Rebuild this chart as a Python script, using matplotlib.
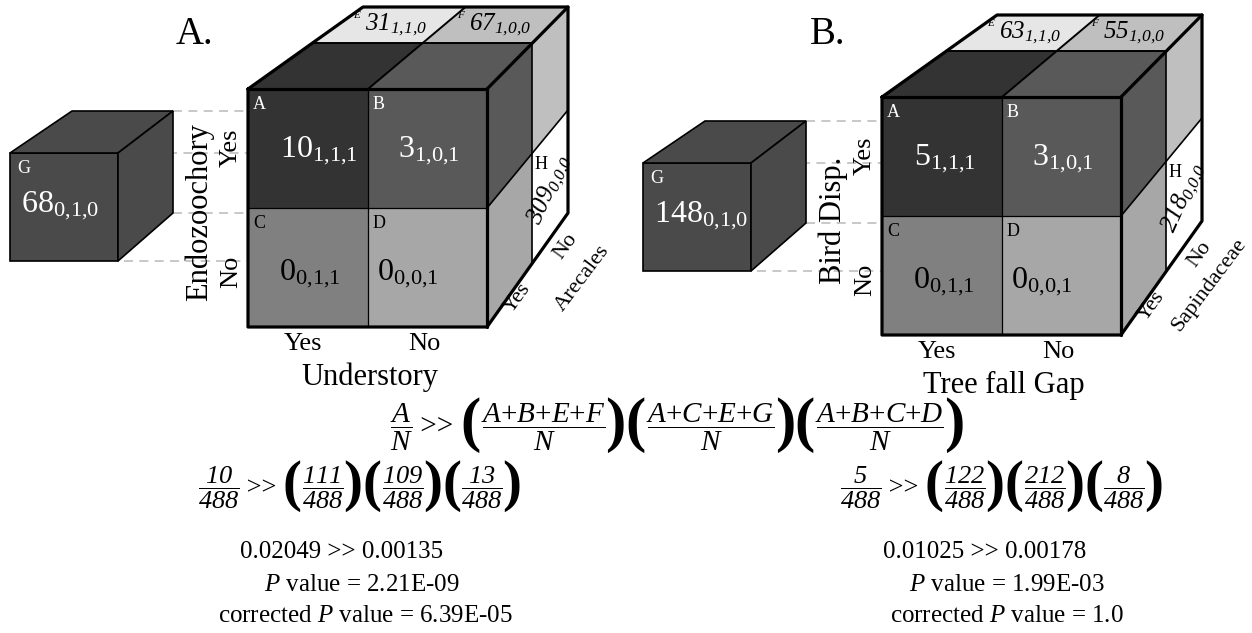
import matplotlib
matplotlib.use('Agg')
import matplotlib.pyplot as plt
from matplotlib.patches import Polygon

plt.rcParams['font.family'] = ['Liberation Serif', 'DejaVu Serif']
plt.rcParams['mathtext.fontset'] = 'custom'
plt.rcParams['mathtext.rm'] = 'Liberation Serif'
plt.rcParams['mathtext.it'] = 'Liberation Serif:italic'
plt.rcParams['mathtext.bf'] = 'Liberation Serif:bold'
# sf slot used for italic digits (mathit keeps digits upright)
plt.rcParams['mathtext.sf'] = 'Liberation Serif:italic'

# --- data ---
cell_names = ['A', 'B', 'C', 'D', 'E', 'F', 'G', 'H']
cell_codes = ['1,1,1', '1,0,1', '0,1,1', '0,0,1', '1,1,0', '1,0,0', '0,1,0', '0,0,0']
counts_a = [10, 3, 0, 0, 31, 67, 68, 309]
counts_b = [5, 3, 0, 0, 63, 55, 148, 218]
titles = ['A.', 'B.']
row_vars = ['Endozoochory', 'Bird Disp.']
col_vars = ['Understory', 'Tree fall Gap']
depth_vars = ['Arecales', 'Sapindaceae']
levels = ['Yes', 'No']
n_total = [488, 488]
obs_num = [10, 5]
exp_nums_a = [111, 109, 13]
exp_nums_b = [122, 212, 8]
obs_freq = ['0.02049', '0.01025']
exp_freq = ['0.00135', '0.00178']
p_vals = ['2.21E-09', '1.99E-03']
p_corr = ['6.39E-05', '1.0']
formula_terms = ['A+B+E+F', 'A+C+E+G', 'A+B+C+D']

face_col = {'A': '#333333', 'B': '#595959', 'C': '#808080', 'D': '#a7a7a7',
            'E': '#e6e6e6', 'F': '#bfbfbf', 'G': '#4a4a4a', 'H': '#ffffff'}
txt_col = {'A': 'white', 'B': 'white', 'C': 'black', 'D': 'black',
           'E': 'black', 'F': 'black', 'G': 'white', 'H': 'black'}

fig = plt.figure(figsize=(12.52, 6.33), dpi=100)
ax = fig.add_axes([0, 0, 1, 1])
ax.set_xlim(0, 1252)
ax.set_ylim(633, 0)
ax.axis('off')

T = 0.56  # depth split of the cube (perspective)


def lerp(p, q, t):
    return (p[0] + (q[0] - p[0]) * t, p[1] + (q[1] - p[1]) * t)


def quad(pts, fc, z=1):
    pg = Polygon(pts, closed=True, facecolor=fc, edgecolor='none', zorder=z)
    ax.add_patch(pg)
    return pg


def seg(pts, lw, z=3):
    xs, ys = zip(*pts)
    ax.plot(xs, ys, color='black', lw=lw, solid_capstyle='round',
            solid_joinstyle='round', zorder=z)


def tight(s):
    # no spacing after commas in mathtext
    return s.replace(',', '{,}')


def draw_panel(k, counts, ox, oy, gx, gy, depth_xy):
    def P(x, y):
        return (x + ox, y + oy)

    c = dict(zip(cell_names, counts))
    code = {n: tight(s) for n, s in zip(cell_names, cell_codes)}

    # main cube corners
    ftl, ftr, fbr, fbl = P(248, 89), P(487, 89), P(487, 327), P(248, 327)
    btl, btr, bbr = P(363, 7), P(568, 7), P(568, 213)
    fmt, fmb = P(368, 89), P(368, 327)
    fml, fmr = P(248, 208), P(487, 208)
    fmm = P(368, 208)
    bmt = lerp(btl, btr, 0.5)
    bmr = lerp(btr, bbr, 0.5)
    lt, rt, mt = lerp(ftl, btl, T), lerp(ftr, btr, T), lerp(fmt, bmt, T)
    rb, rm = lerp(fbr, bbr, T), lerp(fmr, bmr, T)

    # front face
    quad([ftl, fmt, fmm, fml], face_col['A'])
    quad([fmt, ftr, fmr, fmm], face_col['B'])
    quad([fml, fmm, fmb, fbl], face_col['C'])
    quad([fmm, fmr, fbr, fmb], face_col['D'])
    # top face
    quad([ftl, fmt, mt, lt], face_col['A'])
    quad([fmt, ftr, rt, mt], face_col['B'])
    quad([lt, mt, bmt, btl], face_col['E'])
    quad([mt, rt, btr, bmt], face_col['F'])
    # right face
    quad([ftr, fmr, rm, rt], face_col['B'])
    quad([fmr, fbr, rb, rm], face_col['D'])
    quad([rt, rm, bmr, btr], face_col['F'])
    hface = quad([rm, rb, bbr, bmr], face_col['H'])

    # inner lines
    seg([fmt, fmb], 0.9)
    seg([fml, fmr], 0.9)
    seg([lt, rt], 1.4)
    seg([fmt, mt, bmt], 1.4)
    seg([rt, rb], 1.2)
    seg([fmr, rm, bmr], 1.2)
    # outer lines
    seg([ftl, btl, btr, bbr, fbr, fbl, ftl], 2.3, z=4)
    seg([ftl, ftr, fbr], 2.3, z=4)
    seg([ftr, btr], 2.3, z=4)

    # cell letters
    for name, (x, y) in zip('ABCD', [(248, 89), (368, 89), (248, 208), (368, 208)]):
        ax.text(*P(x + 5, y + 7), name, color=txt_col[name], fontsize=13,
                ha='left', va='top', zorder=5)
    # cell counts
    for name, (x, y) in zip('ABCD', [(280, 157), (398, 157), (279, 280), (377, 280)]):
        ax.text(*P(x, y), r'$\mathregular{%d_{%s}}$' % (c[name], code[name]),
                color=txt_col[name], fontsize=23, ha='left', va='baseline', zorder=5)

    # top face labels E / F
    for name, x in zip('EF', [353, 457]):
        ax.text(*P(x, 11), name, fontsize=8, ha='left', va='top', zorder=5,
                style='italic')
        ax.text(*P(x + 12, 30), r'$\mathsf{%d}_{\mathsf{%s}}$' % (c[name], code[name]),
                fontsize=18, ha='left', va='baseline', zorder=5)

    # right face label H (clipped to its face)
    ax.text(*P(535, 156), 'H', fontsize=13, ha='left', va='top', zorder=5)
    th = ax.text(*P(540, 226), r'$\mathsf{%d}_{\mathsf{%s}}$' % (c['H'], code['H']),
                 fontsize=18, ha='left', va='baseline', rotation=66,
                 rotation_mode='anchor', zorder=5)
    th.set_clip_path(hface)

    # titles and axis labels
    ax.text(194 + ox, 35, titles[k], fontsize=28, ha='center', va='center')
    ax.text(*P(199, 212), row_vars[k], fontsize=22, rotation=90,
            ha='center', va='center', zorder=6)
    ax.text(*P(231, 148), levels[0], fontsize=19, rotation=90,
            ha='center', va='center', zorder=6)
    ax.text(*P(231, 272), levels[1], fontsize=19, rotation=90,
            ha='center', va='center', zorder=6)
    ax.text(*P(303, 344), levels[0], fontsize=19, ha='center', va='center')
    ax.text(*P(424, 344), levels[1], fontsize=19, ha='center', va='center')
    ax.text(*P(370, 377), col_vars[k], fontsize=22, ha='center', va='center')
    # depth labels along the bottom right edge
    ax.text(*P(518, 298), levels[0], fontsize=16, rotation=54,
            ha='center', va='center')
    ax.text(*P(566, 246), levels[1], fontsize=16, rotation=54,
            ha='center', va='center')
    ax.text(*P(*depth_xy), depth_vars[k], fontsize=16, rotation=53,
            ha='center', va='center')

    # G cube
    def G(x, y):
        return (x + gx, y + gy)

    gftl, gftr, gfbr, gfbl = G(10, 153), G(118, 153), G(118, 261), G(10, 261)
    gbtl, gbtr, gbbr = G(72, 111), G(173, 111), G(173, 213)
    for pts in ([gftl, gftr, gfbr, gfbl], [gftl, gftr, gbtr, gbtl],
                [gftr, gbtr, gbbr, gfbr]):
        ax.add_patch(Polygon(pts, closed=True, facecolor=face_col['G'],
                             edgecolor='black', lw=1.2, zorder=2))
    ax.text(*G(17, 160), 'G', color='white', fontsize=13, ha='left', va='top', zorder=5)
    ax.text(*G(21, 212), r'$\mathregular{%d_{%s}}$' % (c['G'], code['G']),
            color='white', fontsize=23, ha='left', va='baseline', zorder=5)

    # dashed projection lines
    for (x, y) in [(gbtr[0], gbtr[1]), (gftr[0] + 4, gftr[1]),
                   (gbbr[0], gbbr[1]), (gfbr[0] + 6, gfbr[1])]:
        ax.plot([x, ftl[0]], [y, y], color='#c4c4c4', lw=1.3,
                linestyle=(0, (5, 3.5)), zorder=1)


draw_panel(0, counts_a, 0, 0, 0, 0, (583, 278))
draw_panel(1, counts_b, 634, 8, 633, 10, (575, 277))

# --- formulas, laid out piece by piece so the brackets can be heavy ---
renderer = fig.canvas.get_renderer()


def row_of(cx, cy, pieces):
    texts = []
    for s, kw in pieces:
        kw = dict(kw)
        dy = kw.pop('dy', 0)
        texts.append(ax.text(0, cy + dy, s, ha='left', va='center', **kw))
    widths = [t.get_window_extent(renderer).width for t in texts]
    x = cx - sum(widths) / 2
    for t, w in zip(texts, widths):
        t.set_x(x)
        x += w


def frac(num, den, fs):
    return (r'$\dfrac{%s}{%s}$' % (num, den), dict(fontsize=fs))


def op(fs):
    return (' >> ', dict(fontsize=fs))


def paren(s, fs):
    return (s, dict(fontsize=fs, fontweight='bold', dy=-2))


pieces = [frac('A', 'N', 21), op(21)]
for term in formula_terms:
    pieces += [paren('(', 44), frac(term.replace('+', '{+}'), 'N', 21), paren(')', 44)]
row_of(677, 427, pieces)

for k, (cx, exps) in enumerate([(360, exp_nums_a), (1002, exp_nums_b)]):
    n = n_total[k]
    pieces = [frac(r'\mathsf{%d}' % obs_num[k], r'\mathsf{%d}' % n, 19), op(19)]
    for e in exps:
        pieces += [paren('(', 41),
                   frac(r'\mathsf{%d}' % e, r'\mathsf{%d}' % n, 19),
                   paren(')', 41)]
    row_of(cx, 488, pieces)

line_x = [(342, 362, 365), (985, 1007, 1007)]
for k, (x1, x2, x3) in enumerate(line_x):
    ax.text(x1, 552, '%s >> %s' % (obs_freq[k], exp_freq[k]), fontsize=18,
            ha='center', va='center')
    ax.text(x2, 585, r'$\mathit{P}$ value = %s' % p_vals[k], fontsize=18,
            ha='center', va='center')
    ax.text(x3, 616, r'corrected $\mathit{P}$ value = %s' % p_corr[k], fontsize=18,
            ha='center', va='center')

fig.savefig('out.png', dpi=100, facecolor='white')
